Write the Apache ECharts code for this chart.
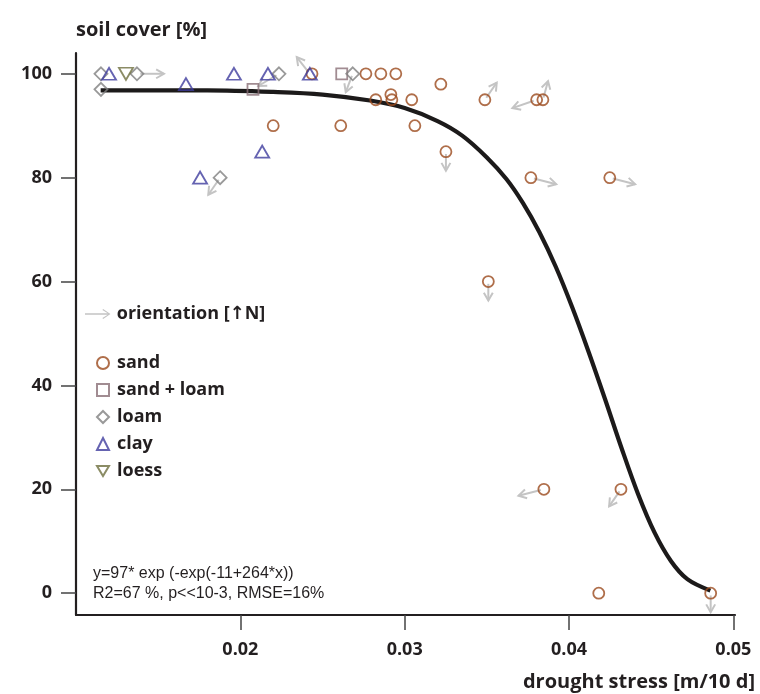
<!DOCTYPE html>
<html><head><meta charset="utf-8">
<script src="https://cdn.jsdelivr.net/npm/echarts@6/dist/echarts.min.js"></script>
<style>html,body{margin:0;padding:0;background:#fff}#c{width:760px;height:694px}</style>
</head><body><div id="c"></div>
<script>
// tick labels
const xTicks = [0.02, 0.03, 0.04, 0.05];
const yTicks = [0, 20, 40, 60, 80, 100];

// points: [drought stress, soil cover %, orientation bearing (deg from N) or null]
const sand = [
  [0.02436,100,null],[0.02764,100,null],[0.02855,100,null],[0.02946,100,null],
  [0.0322,98,null],[0.02916,96,null],[0.02824,95,null],[0.02922,95,null],[0.03043,95,null],
  [0.02611,90,null],[0.03062,90,null],[0.0220,90,null],
  [0.03251,85,180],[0.03509,60,180],[0.03768,80,110],[0.04248,80,110],
  [0.03488,95,26],[0.03803,95,244],[0.03841,95,11],
  [0.03847,20,250],[0.04316,20,206],[0.04181,0,null],[0.04862,0,180]
];
const sandLoam = [[0.02077,97,null],[0.02617,100,null]];
const loam = [
  [0.01152,100,null],[0.01152,97,null],[0.01371,100,90],[0.02235,100,230],
  [0.02684,100,195],[0.01877,80,206]
];
const clay = [
  [0.01201,100,null],[0.01669,98,null],[0.01961,100,null],[0.02168,100,null],
  [0.02423,100,331],[0.02133,85,null],[0.01755,80,null]
];
const loess = [[0.01304,100,null]];

// fitted curve
const fitX = [0.0115,0.018,0.022,0.025,0.028,0.030,0.032,0.0335,0.035,0.0362,0.0372,0.0382,0.0392,0.0402,0.0412,0.0422,0.0432,0.0442,0.0452,0.0462,0.0472,0.0486];
const fitY = [96.8,96.8,96.5,96.0,94.8,93.4,90.9,88.1,83.9,79.7,75.1,69.5,62.8,55.0,46.4,37.3,27.9,19.1,11.7,6.2,2.7,0.5];

const FONT = '"Open Sans", "DejaVu Sans", sans-serif';
const TXT = '#231f20';
const ARROW = '#c4c4c4';
const DOWN_TRI = 'path://M0,0 L20,0 L10,17 Z';

const xy = a => a.map(d => [d[0], d[1]]);
const arrows = [].concat(sand, sandLoam, loam, clay, loess).filter(d => d[2] !== null);
const fit = fitX.map((x, i) => [x, fitY[i]]);

function sc(name, data, symbol, size, color) {
  return {
    type: 'scatter', name: name, data: xy(data), symbol: symbol, symbolSize: size, z: 5,
    itemStyle: { color: 'rgba(255,255,255,0)', borderColor: color, borderWidth: 1.8 },
    emphasis: { disabled: true }
  };
}

const chart = echarts.init(document.getElementById('c'));
chart.setOption({
  animation: false,
  backgroundColor: '#fff',
  grid: { left: 76, right: 25, top: 53, bottom: 79, containLabel: false },
  xAxis: {
    type: 'value', min: 0.01, max: 0.0501,
    name: 'drought stress [m/10 d]', nameLocation: 'end', nameGap: 20,
    nameTextStyle: { fontFamily: FONT, fontWeight: 'bold', fontSize: 20, color: TXT, align: 'right', verticalAlign: 'top', padding: [57, 0, 0, 0] },
    axisLine: { onZero: false, lineStyle: { color: TXT, width: 2.2 } },
    axisTick: { show: true, length: 15, customValues: xTicks, lineStyle: { color: '#444', width: 1.5 } },
    axisLabel: { customValues: xTicks, margin: 26, fontFamily: FONT, fontWeight: 'bold', fontSize: 18, color: TXT,
      formatter: v => v.toFixed(2) },
    splitLine: { show: false }
  },
  yAxis: {
    type: 'value', min: -4.2, max: 104,
    name: 'soil cover [%]', nameLocation: 'end', nameGap: 13,
    nameTextStyle: { fontFamily: FONT, fontWeight: 'bold', fontSize: 20, color: TXT, align: 'left' },
    axisLine: { show: true, onZero: false, lineStyle: { color: TXT, width: 2.2 } },
    axisTick: { show: true, length: 15, customValues: yTicks, lineStyle: { color: '#444', width: 1.5 } },
    axisLabel: { customValues: yTicks, margin: 24, fontFamily: FONT, fontWeight: 'bold', fontSize: 18, color: TXT,
      formatter: v => String(Math.round(v)) },
    splitLine: { show: false }
  },
  legend: [
    {
      orient: 'vertical', left: 80, top: 300, itemWidth: 28, itemHeight: 10,
      textStyle: { fontFamily: FONT, fontWeight: 'bold', fontSize: 18, color: TXT },
      data: [{ name: 'orientation [↑N]',
        icon: 'path://M0,4.2 L24.5,4.2 L18.8,0.8 L19.6,-0.4 L27.5,5 L19.6,10.4 L18.8,9.2 L24.5,5.8 L0,5.8 Z',
        itemStyle: { color: ARROW, borderWidth: 0 } }],
      selectedMode: false
    },
    {
      orient: 'vertical', left: 91, top: 349, itemWidth: 12, itemHeight: 12, itemGap: 9,
      textStyle: { fontFamily: FONT, fontWeight: 'bold', fontSize: 18, color: TXT, padding: [0, 0, 0, 3] },
      data: ['sand', 'sand + loam', 'loam', 'clay', 'loess'],
      selectedMode: false
    }
  ],
  graphic: [{
    type: 'text', left: 93, top: 564, z: 10,
    style: { text: 'y=97* exp (-exp(-11+264*x))\nR2=67 %, p<<10-3, RMSE=16%',
      font: '16px "Liberation Sans", Arial, sans-serif', fill: TXT, lineHeight: 20 }
  }],
  series: [
    {
      type: 'custom', name: 'orientation [↑N]', data: arrows, z: 2, clip: false,
      itemStyle: { color: ARROW },
      encode: { x: 0, y: 1 },
      renderItem: function (params, api) {
        const p = api.coord([api.value(0), api.value(1)]);
        const b = api.value(2) * Math.PI / 180;
        const RX = 27, RY = 19, s0 = 0.12;
        const dx = RX * Math.sin(b), dy = -RY * Math.cos(b);
        const sx = p[0] + dx * s0, sy = p[1] + dy * s0;
        const tx = p[0] + dx, ty = p[1] + dy;
        const ang = Math.atan2(dy, dx), h = 9, a = 0.52;
        const l1 = [tx - h * Math.cos(ang - a), ty - h * Math.sin(ang - a)];
        const l2 = [tx - h * Math.cos(ang + a), ty - h * Math.sin(ang + a)];
        return { type: 'group', children: [
          { type: 'line', shape: { x1: sx, y1: sy, x2: tx, y2: ty }, style: { stroke: ARROW, lineWidth: 2 } },
          { type: 'polyline', shape: { points: [l1, [tx, ty], l2] }, style: { stroke: ARROW, lineWidth: 2, fill: null } }
        ] };
      }
    },
    {
      type: 'line', name: 'fit', data: fit, showSymbol: false, symbol: 'none',
      smooth: 0.35, z: 4,
      lineStyle: { color: '#1c1a1a', width: 4.2 }, emphasis: { disabled: true }
    },
    sc('sand', sand, 'circle', 11, '#9b4a1d'),
    sc('sand + loam', sandLoam, 'rect', 11, '#8a6f77'),
    sc('loam', loam, 'diamond', 13, '#7f7f7f'),
    sc('clay', clay, 'triangle', [14, 12], '#3e3c9e'),
    sc('loess', loess, DOWN_TRI, [14, 12], '#6e6f3e')
  ]
});
</script>
</body></html>
